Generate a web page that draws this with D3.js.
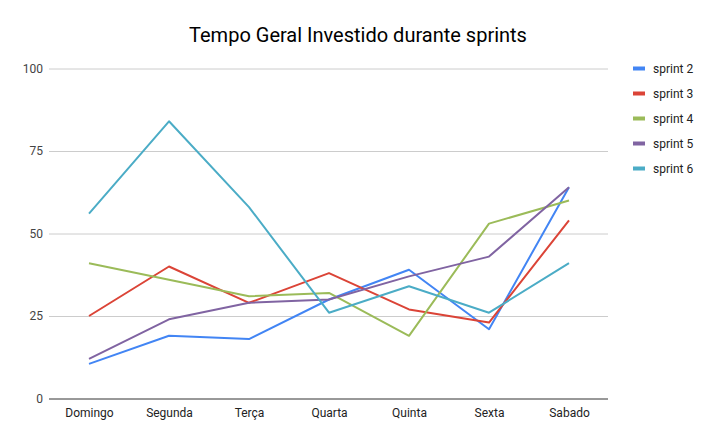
<!DOCTYPE html>
<html><head><meta charset="utf-8">
<script src="https://cdn.jsdelivr.net/npm/d3@7"></script>
<style>body{margin:0;background:#fff}svg{display:block;font-family:Roboto,sans-serif}</style>
</head><body>
<svg id="c" width="716" height="442"></svg>
<script>
const categories = ["Domingo","Segunda","Terça","Quarta","Quinta","Sexta","Sabado"];
const seriesNames = ["sprint 2","sprint 3","sprint 4","sprint 5","sprint 6"];
const sprint2 = [10.5,19,18,30,39,21,64];
const sprint3 = [25,40,29,38,27,23,54];
const sprint4 = [41,36,31,32,19,53,60];
const sprint5 = [12,24,29,30,37,43,64];
const sprint6 = [56,84,58,26,34,26,41];
const yTicks = [0,25,50,75,100];
const colors = ["#4285f4","#db4437","#9bbb59","#8064a2","#4bacc6"];
const title = "Tempo Geral Investido durante sprints";

const allSeries = [sprint2,sprint3,sprint4,sprint5,sprint6];
const svg = d3.select("#c");
const x = d3.scalePoint().domain(categories).range([49,609]).padding(0.5);
const y = d3.scaleLinear().domain([0,100]).range([398.5,68.5]);

svg.append("text").attr("x",358).attr("y",42).attr("text-anchor","middle")
  .attr("font-size",20).attr("fill","#000").text(title);

// grid
const ga = svg.append("g").attr("transform","translate(49,0)")
  .call(d3.axisLeft(y).tickValues(yTicks).tickSize(-559).tickFormat(d3.format("d")).tickPadding(6));
ga.select(".domain").remove();
ga.selectAll(".tick line").attr("stroke",d=>d===0?"#333":"#ccc").attr("stroke-width",1);
ga.selectAll(".tick text").attr("font-size",12).attr("fill","#444").attr("font-family","Roboto,sans-serif");

const xa = svg.append("g").attr("transform","translate(0,398.5)")
  .call(d3.axisBottom(x).tickSize(0).tickPadding(10));
xa.select(".domain").remove();
xa.selectAll(".tick text").attr("font-size",12).attr("fill","#222").attr("font-family","Roboto,sans-serif");

const line = d3.line().x((d,i)=>x(categories[i])).y(d=>y(d));
allSeries.forEach((s,k)=>{
  svg.append("path").datum(s).attr("d",line).attr("fill","none")
    .attr("stroke",colors[k]).attr("stroke-width",2).attr("stroke-linejoin","round");
});

const lg = svg.append("g");
seriesNames.forEach((n,k)=>{
  const yy = 68.5 + k*25;
  lg.append("rect").attr("x",633).attr("y",yy-2).attr("width",12).attr("height",4).attr("fill",colors[k]);
  lg.append("text").attr("x",653).attr("y",yy).attr("dy","0.35em").attr("font-size",12).attr("fill","#222").text(n);
});
</script>
</body></html>
